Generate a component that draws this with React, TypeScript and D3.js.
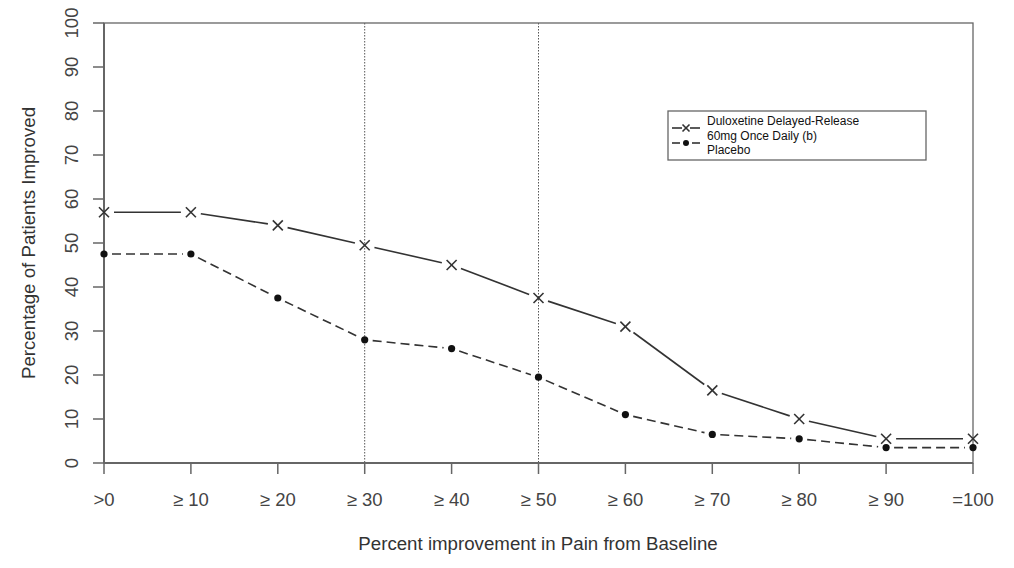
import React from "react";
import * as d3 from "d3";

const categories = [">0", "≥ 10", "≥ 20", "≥ 30", "≥ 40", "≥ 50", "≥ 60", "≥ 70", "≥ 80", "≥ 90", "=100"];
const duloxetine = [57, 57, 54, 49.5, 45, 37.5, 31, 16.5, 10, 5.5, 5.5];
const placebo = [47.5, 47.5, 37.5, 28, 26, 19.5, 11, 6.5, 5.5, 3.5, 3.5];
const yTicks = [0, 10, 20, 30, 40, 50, 60, 70, 80, 90, 100];
const refLines = ["≥ 30", "≥ 50"];
const legendLabels = ["Duloxetine Delayed-Release", "60mg Once Daily (b)", "Placebo"];

const W = 1014, H = 568;
const L = 104, R = 973, T = 23, B = 463;
const FONT = "'Liberation Sans', Arial, Helvetica, sans-serif";

function gappedSegments(pts: [number, number][], gap: number) {
  const segs: { x1: number; y1: number; x2: number; y2: number }[] = [];
  for (let i = 0; i < pts.length - 1; i++) {
    const [ax, ay] = pts[i];
    const [bx, by] = pts[i + 1];
    const len = Math.hypot(bx - ax, by - ay);
    if (len <= 2 * gap) continue;
    const ux = (bx - ax) / len, uy = (by - ay) / len;
    segs.push({ x1: ax + ux * gap, y1: ay + uy * gap, x2: bx - ux * gap, y2: by - uy * gap });
  }
  return segs;
}

export default function App() {
  const x = d3.scalePoint<string>().domain(categories).range([L, R]);
  const y = d3.scaleLinear().domain([0, 100]).range([B, T]);
  const dPts = categories.map((c, i) => [x(c)!, y(duloxetine[i])] as [number, number]);
  const pPts = categories.map((c, i) => [x(c)!, y(placebo[i])] as [number, number]);
  const lineColor = "#333";
  const axisColor = "#666";
  const cross = (cx: number, cy: number, s: number, k: string) => (
    <g key={k} stroke={lineColor} strokeWidth={1.6}>
      <line x1={cx - s} y1={cy - s} x2={cx + s} y2={cy + s} />
      <line x1={cx - s} y1={cy + s} x2={cx + s} y2={cy - s} />
    </g>
  );
  return (
    <svg width={W} height={H} style={{ position: "absolute", left: 0, top: 0, background: "#fff" }} fontFamily={FONT}>
      <rect x={0} y={0} width={W} height={H} fill="#fff" />
      {refLines.map((c) => (
        <line key={c} x1={x(c)} x2={x(c)} y1={T} y2={B} stroke="#555" strokeWidth={1} strokeDasharray="1.5,1.5" />
      ))}
      <rect x={L} y={T} width={R - L} height={B - T} fill="none" stroke={axisColor} strokeWidth={1.3} />
      <line x1={L} x2={L} y1={T} y2={B} stroke={axisColor} strokeWidth={2} />
      <line x1={L} x2={R} y1={B} y2={B} stroke={axisColor} strokeWidth={2} />
      {yTicks.map((t) => (
        <g key={t}>
          <line x1={L - 11} x2={L} y1={y(t)} y2={y(t)} stroke={axisColor} strokeWidth={1.5} />
          <text transform={`translate(78,${y(t)}) rotate(-90)`} textAnchor="middle" fontSize={18.5} fill="#444">{t}</text>
        </g>
      ))}
      {categories.map((c) => (
        <g key={c}>
          <line x1={x(c)} x2={x(c)} y1={B} y2={B + 11} stroke={axisColor} strokeWidth={1.5} />
          <text x={x(c)} y={506} textAnchor="middle" fontSize={18.5} fill="#444">{c}</text>
        </g>
      ))}
      <text x={538} y={550} textAnchor="middle" fontSize={18.7} fill="#333">Percent improvement in Pain from Baseline</text>
      <text transform={`translate(35,243) rotate(-90)`} textAnchor="middle" fontSize={18.7} fill="#333">Percentage of Patients Improved</text>
      {gappedSegments(dPts, 10).map((s, i) => (
        <line key={"d" + i} {...s} stroke={lineColor} strokeWidth={1.6} />
      ))}
      {dPts.map(([cx, cy], i) => cross(cx, cy, 5, "dc" + i))}
      {gappedSegments(pPts, 8).map((s, i) => (
        <line key={"p" + i} {...s} stroke={lineColor} strokeWidth={1.6} strokeDasharray="9,5" />
      ))}
      {pPts.map(([cx, cy], i) => (
        <circle key={"pc" + i} cx={cx} cy={cy} r={3.6} fill="#111" />
      ))}
      <rect x={668} y={111} width={258} height={49} fill="#fff" stroke="#666" strokeWidth={1.3} />
      <line x1={672} x2={682} y1={128} y2={128} stroke={lineColor} strokeWidth={1.6} />
      <line x1={690} x2={700} y1={128} y2={128} stroke={lineColor} strokeWidth={1.6} />
      {cross(686, 128, 3.5, "lc")}
      <line x1={672} x2={680} y1={143} y2={143} stroke={lineColor} strokeWidth={1.6} />
      <line x1={692} x2={700} y1={143} y2={143} stroke={lineColor} strokeWidth={1.6} />
      <circle cx={686} cy={143} r={3} fill="#111" />
      {legendLabels.map((l, i) => (
        <text key={l} x={707} y={125 + i * 14.5} fontSize={12} fill="#111">{l}</text>
      ))}
    </svg>
  );
}
